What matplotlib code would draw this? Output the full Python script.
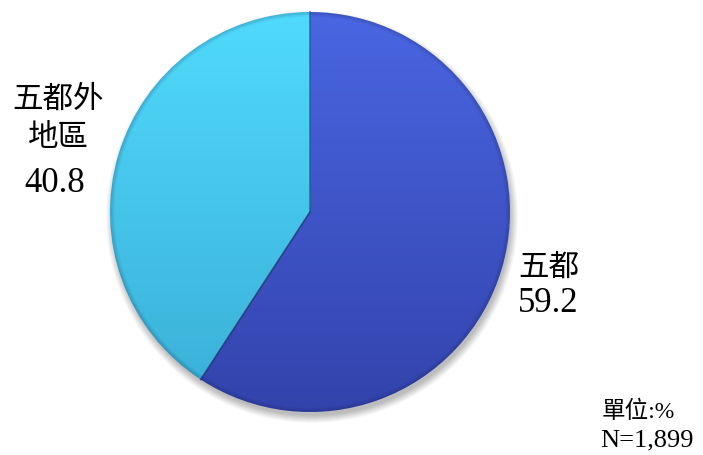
import numpy as np
import matplotlib
matplotlib.use("Agg")
import matplotlib.pyplot as plt
from matplotlib.patches import Circle
import matplotlib.colors as mcolors

plt.rcParams['font.family'] = ['Liberation Serif', 'Noto Sans CJK TC', 'DejaVu Sans']

labels = ['五都', '五都外\n地區']
values = [59.2, 40.8]
# top / bottom colours of each wedge gradient
top_colors = ['#4a66e2', '#50dafc']
bottom_colors = ['#3343ac', '#3aaed6']
unit_text = '單位:%'
n_text = 'N=1,899'

W, H = 703, 455
fig = plt.figure(figsize=(W / 100, H / 100), dpi=100)
ax = fig.add_axes([0, 0, 1, 1])

cx, cy, r = 310, 243, 200

# soft drop shadow under the pie
for i in range(14):
    ax.add_patch(Circle((cx + 2, cy - 5), r + 6 - i * 0.6, color='black',
                        alpha=0.018, lw=0, zorder=1))

wedges, _ = ax.pie(values, startangle=90, counterclock=False,
                   center=(cx, cy), radius=r, frame=True,
                   wedgeprops=dict(linewidth=0))
ax.set_xlim(0, W)
ax.set_ylim(0, H)
ax.set_aspect('equal')
ax.axis('off')

# vertical gradient fill clipped to each wedge
grad = np.linspace(0, 1, 256).reshape(-1, 1)
for w, c0, c1 in zip(wedges, top_colors, bottom_colors):
    w.set_facecolor('none')
    w.set_zorder(3)
    cmap = mcolors.LinearSegmentedColormap.from_list('g', [c1, c0])
    im = ax.imshow(grad, cmap=cmap, extent=(cx - r, cx + r, cy - r, cy + r),
                   origin='lower', aspect='auto', zorder=2)
    im.set_clip_path(w)
    # darker rim for a slight bevel
    for k, a in enumerate([0.12, 0.08, 0.05]):
        rim = plt.Circle((cx, cy), r - k * 1.5, fill=False, lw=2,
                         ec='#101840', alpha=a, zorder=3)
        ax.add_patch(rim)
        rim.set_clip_path(w)

# thin divider lines between the wedges
ang = np.deg2rad(90)
ax.plot([cx, cx + r * np.cos(ang)], [cy, cy + r * np.sin(ang)],
        color='#1e5f90', lw=1.2, alpha=0.8, zorder=4)
ang = np.deg2rad(90 - 360 * values[0] / 100)
ax.plot([cx, cx + r * np.cos(ang)], [cy, cy + r * np.sin(ang)],
        color='#203070', lw=1.2, alpha=0.8, zorder=4)

ax.text(518, 455 - 268, labels[0], fontsize=22, ha='left', va='center')
ax.text(518, 455 - 304, f'{values[0]:.1f}', fontsize=25, ha='left', va='center')
ax.text(58, 455 - 100, labels[1].split('\n')[0], fontsize=22, ha='center', va='center')
ax.text(58, 455 - 139, labels[1].split('\n')[1], fontsize=22, ha='center', va='center')
ax.text(55, 455 - 183, f'{values[1]:.1f}', fontsize=25, ha='center', va='center')

ax.text(602, 455 - 412, unit_text, fontsize=17, ha='left', va='center')
ax.text(600, 455 - 440, n_text, fontsize=19, ha='left', va='center')

fig.savefig('out.png', dpi=100)
